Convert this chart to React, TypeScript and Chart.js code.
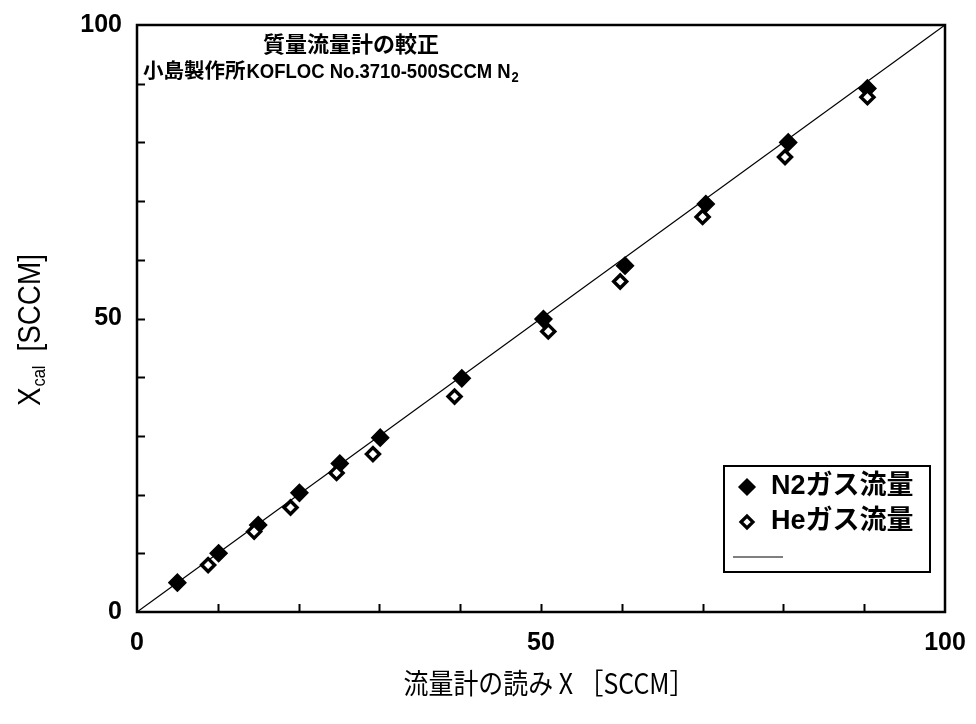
import React, { useEffect, useRef } from "react";
import { Chart, registerables } from "chart.js";

Chart.register(...registerables);

// Flow meter reading X [SCCM] vs. calibrated flow X_cal [SCCM]
const n2Reading = [5.0, 10.1, 15.0, 20.1, 25.1, 30.1, 40.2, 50.3, 60.4, 70.4, 80.6, 90.4];
const n2Cal = [5.0, 10.0, 14.8, 20.3, 25.3, 29.7, 39.8, 49.9, 59.0, 69.5, 80.0, 89.2];
const heReading = [8.8, 14.5, 19.0, 24.7, 29.2, 39.3, 50.9, 59.8, 70.0, 80.2, 90.4];
const heCal = [8.0, 13.7, 17.8, 23.7, 26.9, 36.7, 47.8, 56.3, 67.3, 77.5, 87.7];
const refLine = [0, 100];

const axisMin = 0;
const axisMax = 100;
const minorStep = 10;
const labelStep = 50;

const seriesLabels = ["N2ガス流量", "Heガス流量"];
const titleLine1 = "質量流量計の較正";
const titleLine2Maker = "小島製作所";
const titleLine2Model = "KOFLOC No.3710-500SCCM N";
const titleLine2Sub = "2";
const xTitle = "流量計の読み X ［SCCM］";
const yTitleMain = "X";
const yTitleSub = "cal";
const yTitleUnit = "[SCCM]";

const FONT_LATIN = '"Liberation Sans", Arial, sans-serif';
const FONT_JP = '"Liberation Sans", "Noto Sans CJK JP", sans-serif';
const FONT_JP_PLAIN = '"Noto Sans CJK JP", sans-serif';

function diamond(ctx: CanvasRenderingContext2D, x: number, y: number, r: number, fill: string, lw: number) {
  ctx.beginPath();
  ctx.moveTo(x - r, y);
  ctx.lineTo(x, y - r);
  ctx.lineTo(x + r, y);
  ctx.lineTo(x, y + r);
  ctx.closePath();
  ctx.fillStyle = fill;
  ctx.fill();
  ctx.lineWidth = lw;
  ctx.strokeStyle = "#000";
  ctx.stroke();
}

// Frame, inward tick marks, in-plot title, axis titles and legend box
const decorPlugin = {
  id: "decor",
  afterDraw(chart: any) {
    const ctx: CanvasRenderingContext2D = chart.ctx;
    const { left, right, top, bottom } = chart.chartArea;
    const xs = chart.scales.x;
    const ys = chart.scales.y;
    ctx.save();

    // inward ticks
    ctx.strokeStyle = "#000";
    ctx.lineWidth = 2;
    xs.ticks.forEach((t: any) => {
      if (t.value <= axisMin || t.value >= axisMax) return;
      const px = Math.round(xs.getPixelForValue(t.value)) + 0.5;
      ctx.beginPath();
      ctx.moveTo(px, bottom);
      ctx.lineTo(px, bottom - 8);
      ctx.stroke();
    });
    ys.ticks.forEach((t: any) => {
      if (t.value <= axisMin || t.value >= axisMax) return;
      const py = Math.round(ys.getPixelForValue(t.value)) + 0.5;
      ctx.beginPath();
      ctx.moveTo(left, py);
      ctx.lineTo(left + 8, py);
      ctx.stroke();
    });

    // frame
    ctx.lineWidth = 2.5;
    ctx.strokeRect(left, top, right - left, bottom - top);

    // title inside the plot
    ctx.fillStyle = "#000";
    ctx.textBaseline = "middle";
    ctx.textAlign = "center";
    ctx.font = `bold 22px ${FONT_JP}`;
    ctx.fillText(titleLine1, left + 214, top + 21);
    ctx.textAlign = "left";
    const l2x = left + 6;
    const l2y = top + 47;
    ctx.font = `bold 20.5px ${FONT_JP}`;
    ctx.fillText(titleLine2Maker, l2x, l2y);
    const wMaker = ctx.measureText(titleLine2Maker).width;
    ctx.save();
    ctx.translate(l2x + wMaker + 1, l2y);
    ctx.scale(0.925, 1);
    ctx.font = `bold 20px ${FONT_LATIN}`;
    ctx.fillText(titleLine2Model, 0, 0);
    const wModel = ctx.measureText(titleLine2Model).width;
    ctx.font = `bold 14px ${FONT_LATIN}`;
    ctx.fillText(titleLine2Sub, wModel + 1, 6);
    ctx.restore();

    // x-axis title (slightly condensed)
    ctx.save();
    ctx.translate((left + right) / 2 + 8, bottom + 71);
    ctx.scale(0.89, 1);
    ctx.textAlign = "center";
    ctx.textBaseline = "middle";
    ctx.font = `28px ${FONT_JP_PLAIN}`;
    ctx.fillText(xTitle, 0, 0);
    ctx.restore();

    // y-axis title with subscript
    ctx.save();
    ctx.translate(left - 109, (top + bottom) / 2 + 12);
    ctx.rotate(-Math.PI / 2);
    ctx.scale(0.87, 1);
    ctx.textAlign = "left";
    ctx.textBaseline = "alphabetic";
    ctx.font = `32px ${FONT_LATIN}`;
    const wX = ctx.measureText(yTitleMain).width;
    const wU = ctx.measureText(yTitleUnit).width;
    ctx.font = `19px ${FONT_LATIN}`;
    const wC = ctx.measureText(yTitleSub).width;
    const gap = 16;
    const total = wX + wC + gap + wU;
    let cx = -total / 2;
    const base = 11.5;
    ctx.font = `32px ${FONT_LATIN}`;
    ctx.fillText(yTitleMain, cx, base);
    cx += wX + 1;
    ctx.font = `19px ${FONT_LATIN}`;
    ctx.fillText(yTitleSub, cx, base + 5);
    cx += wC + gap;
    ctx.font = `32px ${FONT_LATIN}`;
    ctx.fillText(yTitleUnit, cx, base);
    ctx.restore();

    // legend
    const bx = right - 221;
    const by = bottom - 146;
    const bw = 206;
    const bh = 106;
    ctx.fillStyle = "#fff";
    ctx.fillRect(bx, by, bw, bh);
    ctx.lineWidth = 2;
    ctx.strokeStyle = "#000";
    ctx.strokeRect(bx, by, bw, bh);
    diamond(ctx, bx + 23, by + 21, 8, "#000", 1.5);
    diamond(ctx, bx + 23, by + 56, 6, "#fff", 3.2);
    ctx.lineWidth = 1.2;
    ctx.beginPath();
    ctx.moveTo(bx + 9, by + 91);
    ctx.lineTo(bx + 59, by + 91);
    ctx.stroke();
    ctx.fillStyle = "#000";
    ctx.textAlign = "left";
    ctx.textBaseline = "middle";
    ctx.font = `bold 27px ${FONT_JP}`;
    ctx.fillText(seriesLabels[0], bx + 47, by + 21);
    ctx.fillText(seriesLabels[1], bx + 47, by + 56);

    ctx.restore();
  },
};

export default function App() {
  const canvasRef = useRef<HTMLCanvasElement | null>(null);

  useEffect(() => {
    const canvas = canvasRef.current;
    if (!canvas) return;

    const tickCallback = (v: any) => (Number(v) % labelStep === 0 ? String(v) : "");

    const chart = new Chart(canvas, {
      type: "scatter",
      data: {
        datasets: [
          {
            label: seriesLabels[1],
            data: heReading.map((x, i) => ({ x, y: heCal[i] })),
            pointStyle: "rectRot",
            pointRadius: 6.5,
            pointBorderWidth: 3.4,
            pointBackgroundColor: "#fff",
            pointBorderColor: "#000",
            showLine: false,
            order: 1,
          },
          {
            label: seriesLabels[0],
            data: n2Reading.map((x, i) => ({ x, y: n2Cal[i] })),
            pointStyle: "rectRot",
            pointRadius: 8.5,
            pointBorderWidth: 1.5,
            pointBackgroundColor: "#000",
            pointBorderColor: "#000",
            showLine: false,
            order: 2,
          },
          {
            label: "",
            data: refLine.map((v) => ({ x: v, y: v })),
            showLine: true,
            borderColor: "#000",
            borderWidth: 1.2,
            pointRadius: 0,
            order: 3,
          },
        ],
      },
      options: {
        responsive: false,
        animation: false,
        devicePixelRatio: 1,
        events: [],
        layout: {
          autoPadding: false,
          padding: { left: 0, right: 31, top: 25, bottom: 0 },
        },
        plugins: {
          legend: { display: false },
          tooltip: { enabled: false },
          title: { display: false },
        },
        scales: {
          x: {
            type: "linear",
            position: "bottom",
            min: axisMin,
            max: axisMax,
            grid: { display: false, drawTicks: false, drawOnChartArea: false },
            border: { display: false },
            ticks: {
              stepSize: minorStep,
              autoSkip: false,
              maxRotation: 0,
              padding: 16,
              color: "#000",
              font: { family: FONT_LATIN, size: 25, weight: "bold" },
              callback: tickCallback,
            },
            afterFit(scale: any) {
              scale.height = 112;
              scale.paddingLeft = 0;
              scale.paddingRight = 0;
            },
          },
          y: {
            type: "linear",
            position: "left",
            min: axisMin,
            max: axisMax,
            grid: { display: false, drawTicks: false, drawOnChartArea: false },
            border: { display: false },
            ticks: {
              stepSize: minorStep,
              autoSkip: false,
              padding: 15,
              color: "#000",
              font: { family: FONT_LATIN, size: 25, weight: "bold" },
              callback: tickCallback,
            },
            afterFit(scale: any) {
              scale.width = 137;
              scale.paddingTop = 0;
              scale.paddingBottom = 0;
            },
          },
        },
      } as any,
      plugins: [decorPlugin],
    });

    return () => chart.destroy();
  }, []);

  return (
    <div
      style={{
        position: "fixed",
        left: 0,
        top: 0,
        width: 976,
        height: 724,
        background: "#fff",
      }}
    >
      <canvas ref={canvasRef} width={976} height={724} style={{ display: "block" }} />
    </div>
  );
}
